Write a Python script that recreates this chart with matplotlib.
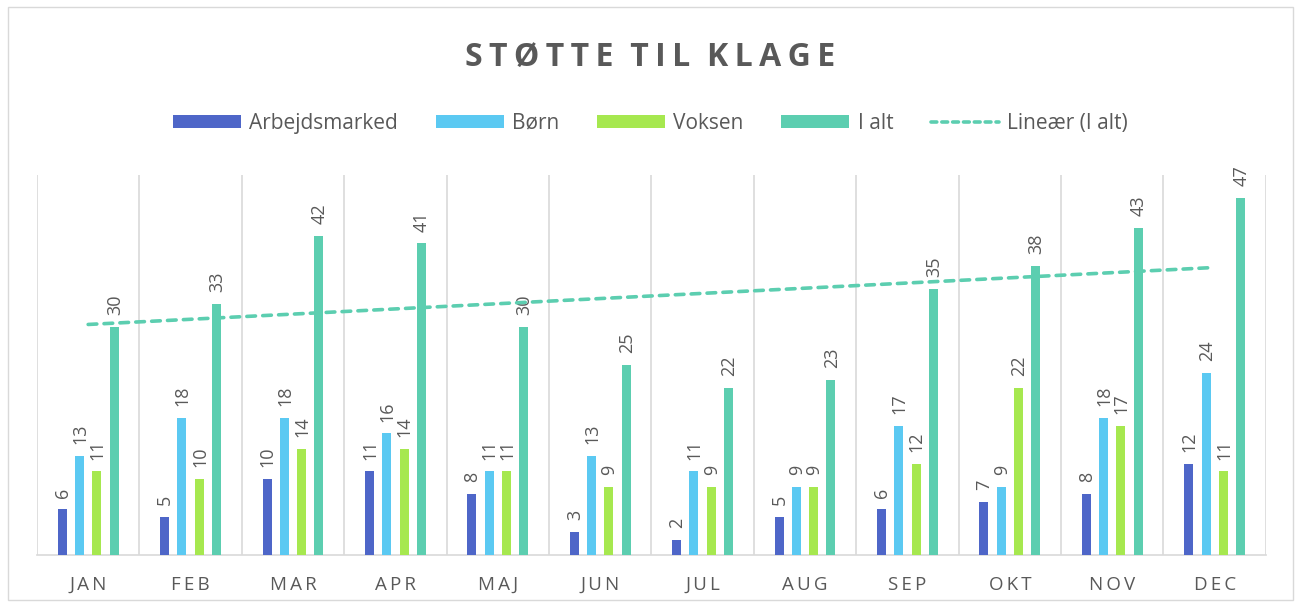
import numpy as np
import matplotlib
matplotlib.use("Agg")
import matplotlib.pyplot as plt
from matplotlib.patches import Rectangle
from matplotlib.lines import Line2D
from matplotlib.patches import Patch

months = ["JAN", "FEB", "MAR", "APR", "MAJ", "JUN", "JUL", "AUG", "SEP", "OKT", "NOV", "DEC"]
arbejdsmarked = [6, 5, 10, 11, 8, 3, 2, 5, 6, 7, 8, 12]
born = [13, 18, 18, 16, 11, 13, 11, 9, 17, 9, 18, 24]
voksen = [11, 10, 14, 14, 11, 9, 9, 9, 12, 22, 17, 11]
i_alt = [30, 33, 42, 41, 30, 25, 22, 23, 35, 38, 43, 47]

series_names = ["Arbejdsmarked", "Børn", "Voksen", "I alt"]
colors = ["#4E66C8", "#5BC9F2", "#A6E84F", "#5CCEB0"]
trend_label = "Lineær (I alt)"
title = "STØTTE TIL KLAGE"

FONT = ["Open Sans", "DejaVu Sans"]
GRAY = "#595959"

fig = plt.figure(figsize=(13.01, 6.07), dpi=100)
fig.patches.append(Rectangle((0.006, 0.012), 0.988, 0.976, transform=fig.transFigure,
                             fill=False, edgecolor="#D9D9D9", linewidth=1))
ax = fig.add_axes([0.0284, 0.0857, 0.9446, 0.626])

x = np.arange(len(months))
spacing = 0.169
width = 0.088
all_series = [arbejdsmarked, born, voksen, i_alt]
for i, (vals, c) in enumerate(zip(all_series, colors)):
    pos = x + (i - 1.5) * spacing
    ax.bar(pos, vals, width=width, color=c, zorder=3)
    for p, v in zip(pos, vals):
        ax.annotate(str(v), (p, v), xytext=(0.5, 8.5), textcoords="offset points",
                    rotation=90, ha="center", va="bottom", fontsize=13,
                    color=GRAY, family=FONT)

# linear trendline
coef = np.polyfit(x, i_alt, 1)
ax.plot(x, np.polyval(coef, x), linestyle=(0, (2.4, 2.0)), color="#5CCEB0",
        linewidth=2.6, dash_capstyle="round", zorder=4)

ax.set_xlim(-0.5, 11.5)
ax.set_ylim(0, 50)
ax.set_yticks([])
ax.set_xticks(x)
ax.set_xticklabels(["\u2009".join(m) for m in months], family=FONT, fontsize=13.5, color=GRAY)
ax.tick_params(axis="x", length=0, pad=15)
for b in np.arange(-0.5, 12, 1):
    ax.axvline(b, color="#D9D9D9", linewidth=1.2, zorder=1)
for s in ["top", "right", "left"]:
    ax.spines[s].set_visible(False)
ax.spines["bottom"].set_color("#D9D9D9")
ax.spines["bottom"].set_linewidth(1.2)

fig.text(0.5, 0.905, "\u2009".join(title).replace("\u2009 \u2009", "  "), ha="center", va="center",
         fontsize=23, fontweight="bold", color=GRAY, family=FONT)

handles = [Patch(facecolor=c) for c in colors]
handles.append(Line2D([0], [0], color="#5CCEB0", linestyle=(0, (1.6, 1.4)), linewidth=2.6,
                      dash_capstyle="round"))
leg = fig.legend(handles, series_names + [trend_label], loc="center", bbox_to_anchor=(0.5, 0.797),
                 ncol=5, frameon=False, prop={"family": FONT, "size": 15}, labelcolor=GRAY,
                 handlelength=3.27, handleheight=0.63, columnspacing=1.8, handletextpad=0.4)

fig.savefig("out.png", dpi=100)
